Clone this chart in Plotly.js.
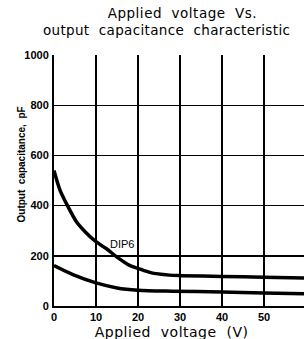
<!DOCTYPE html>
<html><head><meta charset="utf-8">
<script src="https://cdn.plot.ly/plotly-3.0.1.min.js"></script>
<style>
html,body{margin:0;padding:0;overflow:hidden;background:#fff;}
</style></head>
<body><div id="chart"></div>
<script>
const voltageUpper = [0, 1.4, 3.3, 5.3, 7.7, 10, 12.5, 15, 18, 20, 23, 27.5, 30, 40, 50, 60];
const capUpper = [540, 463, 397, 337, 291, 256, 228, 195, 162, 150, 133, 123, 121, 118, 115, 111];
const voltageLower = [0, 4.5, 10, 15, 20, 28, 40, 50, 60];
const capLower = [161, 125, 92, 72, 63, 59, 56, 52, 49];
const xTicks = [0, 10, 20, 30, 40, 50, 60];
const yTicks = [0, 200, 400, 600, 800, 1000];
const curveLabel = "DIP6";
const labelPos = [12.8, 248];

const nb = '\u00a0';
const titleLine1 = 'Applied' + nb + nb + 'voltage' + nb + nb + 'Vs.';
const titleLine2 = 'output' + nb + nb + 'capacitance' + nb + nb + 'characteristic';
const xTitle = 'Applied' + nb + nb + 'voltage' + nb + nb + '(V)';
const yTitle = 'Output' + nb + nb + 'capacitance,' + nb + nb + 'pF';

const lineStyle = {color: '#000', width: 3.5, shape: 'spline', smoothing: 0.8};
const data = [
  {x: voltageUpper, y: capUpper, mode: 'lines', line: lineStyle, hoverinfo: 'skip'},
  {x: voltageLower, y: capLower, mode: 'lines', line: lineStyle, hoverinfo: 'skip'}
];
const titleFont = {family: 'DejaVu Sans', size: 13.5, color: '#000'};
const layout = {
  width: 310, height: 339,
  margin: {l: 54, r: 4, t: 55, b: 33},
  paper_bgcolor: '#fff', plot_bgcolor: '#fff',
  showlegend: false,
  xaxis: {
    range: [0, 60], tickvals: xTicks, ticks: '',
    showgrid: true, gridcolor: '#000', gridwidth: 1.4,
    showline: true, linecolor: '#000', linewidth: 2, zeroline: false,
    tickfont: {family: 'Liberation Sans', size: 11, color: '#000', weight: 'bold'},
    ticklabelstandoff: 0,
    fixedrange: true
  },
  yaxis: {
    range: [0, 1000], tickvals: yTicks, ticks: '',
    showgrid: true, gridcolor: '#000', gridwidth: 1.4,
    showline: true, linecolor: '#000', linewidth: 2, zeroline: false,
    tickfont: {family: 'Liberation Sans', size: 11, color: '#000', weight: 'bold'},
    ticklabelstandoff: 1,
    fixedrange: true
  },
  annotations: [
    {x: labelPos[0], y: labelPos[1], xref: 'x', yref: 'y', text: curveLabel,
     showarrow: false, xanchor: 'left', yanchor: 'middle',
     font: {family: 'Liberation Sans', size: 11, color: '#000'}},
    {x: (182 - 54) / 252, y: (306 - 13.5) / 251, xref: 'paper', yref: 'paper', text: titleLine1,
     showarrow: false, xanchor: 'center', yanchor: 'middle', font: titleFont},
    {x: (47 - 54) / 252, y: (306 - 29.5) / 251, xref: 'paper', yref: 'paper', text: titleLine2,
     showarrow: false, xanchor: 'left', yanchor: 'middle', font: titleFont},
    {x: (171 - 54) / 252, y: (306 - 331.5) / 251, xref: 'paper', yref: 'paper', text: xTitle,
     showarrow: false, xanchor: 'center', yanchor: 'middle', font: {family: 'DejaVu Sans', size: 14, color: '#000'}},
    {x: (21 - 54) / 252, y: (306 - 164.5) / 251, xref: 'paper', yref: 'paper', text: yTitle,
     showarrow: false, xanchor: 'center', yanchor: 'middle', textangle: -90,
     font: {family: 'Liberation Sans', size: 10, color: '#000', weight: 'bold'}}
  ]
};
Plotly.newPlot('chart', data, layout, {displayModeBar: false, staticPlot: true}).then(function(){
  document.querySelectorAll('.annotation-text').forEach(function(t, i){
    if (i === 1 || i === 3) t.style.letterSpacing = '0.5px';
    if (i === 2) t.style.letterSpacing = '0.35px';
  });
});
</script></body></html>
